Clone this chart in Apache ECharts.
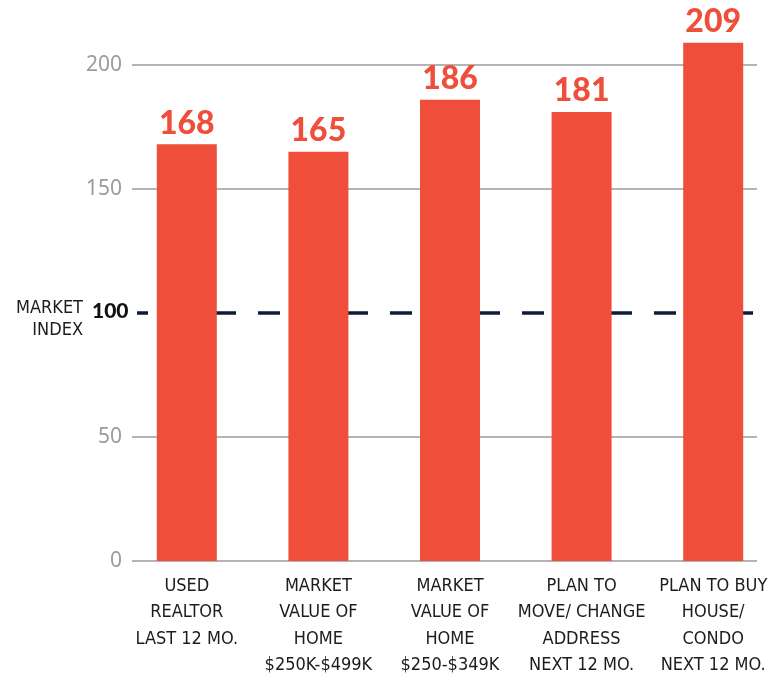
<!DOCTYPE html>
<html><head><meta charset="utf-8">
<script src="https://cdn.jsdelivr.net/npm/echarts@6/dist/echarts.min.js"></script>
<style>html,body{margin:0;padding:0;background:#fff}#c{width:777px;height:674px}</style>
</head><body><div id="c"></div>
<script>
const categories = [
  'USED\nREALTOR\nLAST 12 MO.',
  'MARKET\nVALUE OF\nHOME\n$250K-$499K',
  'MARKET\nVALUE OF\nHOME\n$250-$349K',
  'PLAN TO\nMOVE/ CHANGE\nADDRESS\nNEXT 12 MO.',
  'PLAN TO BUY\nHOUSE/\nCONDO\nNEXT 12 MO.'
];
const values = [168, 165, 186, 181, 209];
const yTicks = [0, 50, 100, 150, 200];
const marketIndex = 100;

const RED = '#ef4e3a';
const GRAY = '#9b9b9d';
const chart = echarts.init(document.getElementById('c'));
const TOP = 65, BOTTOM = 113;
const CAT_FONT = '"Liberation Sans Narrow", "DejaVu Sans Condensed", sans-serif';
chart.setOption({
  animation: false,
  grid: [
    {left: 132, right: 20, top: TOP, bottom: BOTTOM, containLabel: false, outerBoundsMode: 'none'},
    {left: 121, width: 658, top: TOP, bottom: BOTTOM, containLabel: false, outerBoundsMode: 'none'},
    {left: 137, right: 24, top: TOP, bottom: BOTTOM, containLabel: false, outerBoundsMode: 'none'}
  ],
  xAxis: [
    {gridIndex: 0, type: 'value', min: 0, max: 1, show: false},
    {gridIndex: 1, type: 'category', data: categories, boundaryGap: true,
     axisLine: {show: false}, axisTick: {show: false},
     axisLabel: {color: '#1c1c1c', fontFamily: CAT_FONT,
       fontSize: 18, fontWeight: 500, lineHeight: 26.5, margin: 12, interval: 0}},
    {gridIndex: 2, type: 'value', min: 0, max: 1, show: false}
  ],
  yAxis: [
    {gridIndex: 0, type: 'value', min: yTicks[0], max: yTicks[yTicks.length-1], interval: 50,
     axisLine: {show: false}, axisTick: {show: false},
     splitLine: {show: true, lineStyle: {width: 1.6,
       color: yTicks.map(t => t === marketIndex ? 'rgba(0,0,0,0)' : GRAY)}},
     axisLabel: {color: GRAY, fontFamily: '"Noto Sans", sans-serif', fontSize: 21, margin: 10,
       formatter: v => v === marketIndex ? '' : String(v)}},
    {gridIndex: 1, type: 'value', min: yTicks[0], max: yTicks[yTicks.length-1], show: false},
    {gridIndex: 2, type: 'value', min: yTicks[0], max: yTicks[yTicks.length-1], show: false}
  ],
  series: [
    {type: 'line', xAxisIndex: 2, yAxisIndex: 2, data: [], z: 2,
     markLine: {silent: true, symbol: 'none', label: {show: false},
       lineStyle: {color: '#0d1a38', width: 3.5, type: [22, 22], dashOffset: 11},
       data: [{yAxis: marketIndex}]}},
    {type: 'bar', xAxisIndex: 1, yAxisIndex: 1, data: values, barWidth: 60, clip: false, z: 5,
     itemStyle: {color: RED},
     label: {show: true, position: 'top', distance: 5, color: RED,
       fontFamily: 'Lato, sans-serif', fontWeight: 900, fontSize: 32}}
  ],
  graphic: [
    {type: 'text', right: 777 - 83, top: 297, style: {text: 'MARKET\nINDEX', textAlign: 'right',
      fill: '#1c1c1c', font: '500 18px ' + CAT_FONT, lineHeight: 22}},
    {type: 'text', left: 92, top: 301, style: {text: String(marketIndex), fill: '#111',
      font: '900 21px Lato, sans-serif'}}
  ]
});
</script></body></html>
